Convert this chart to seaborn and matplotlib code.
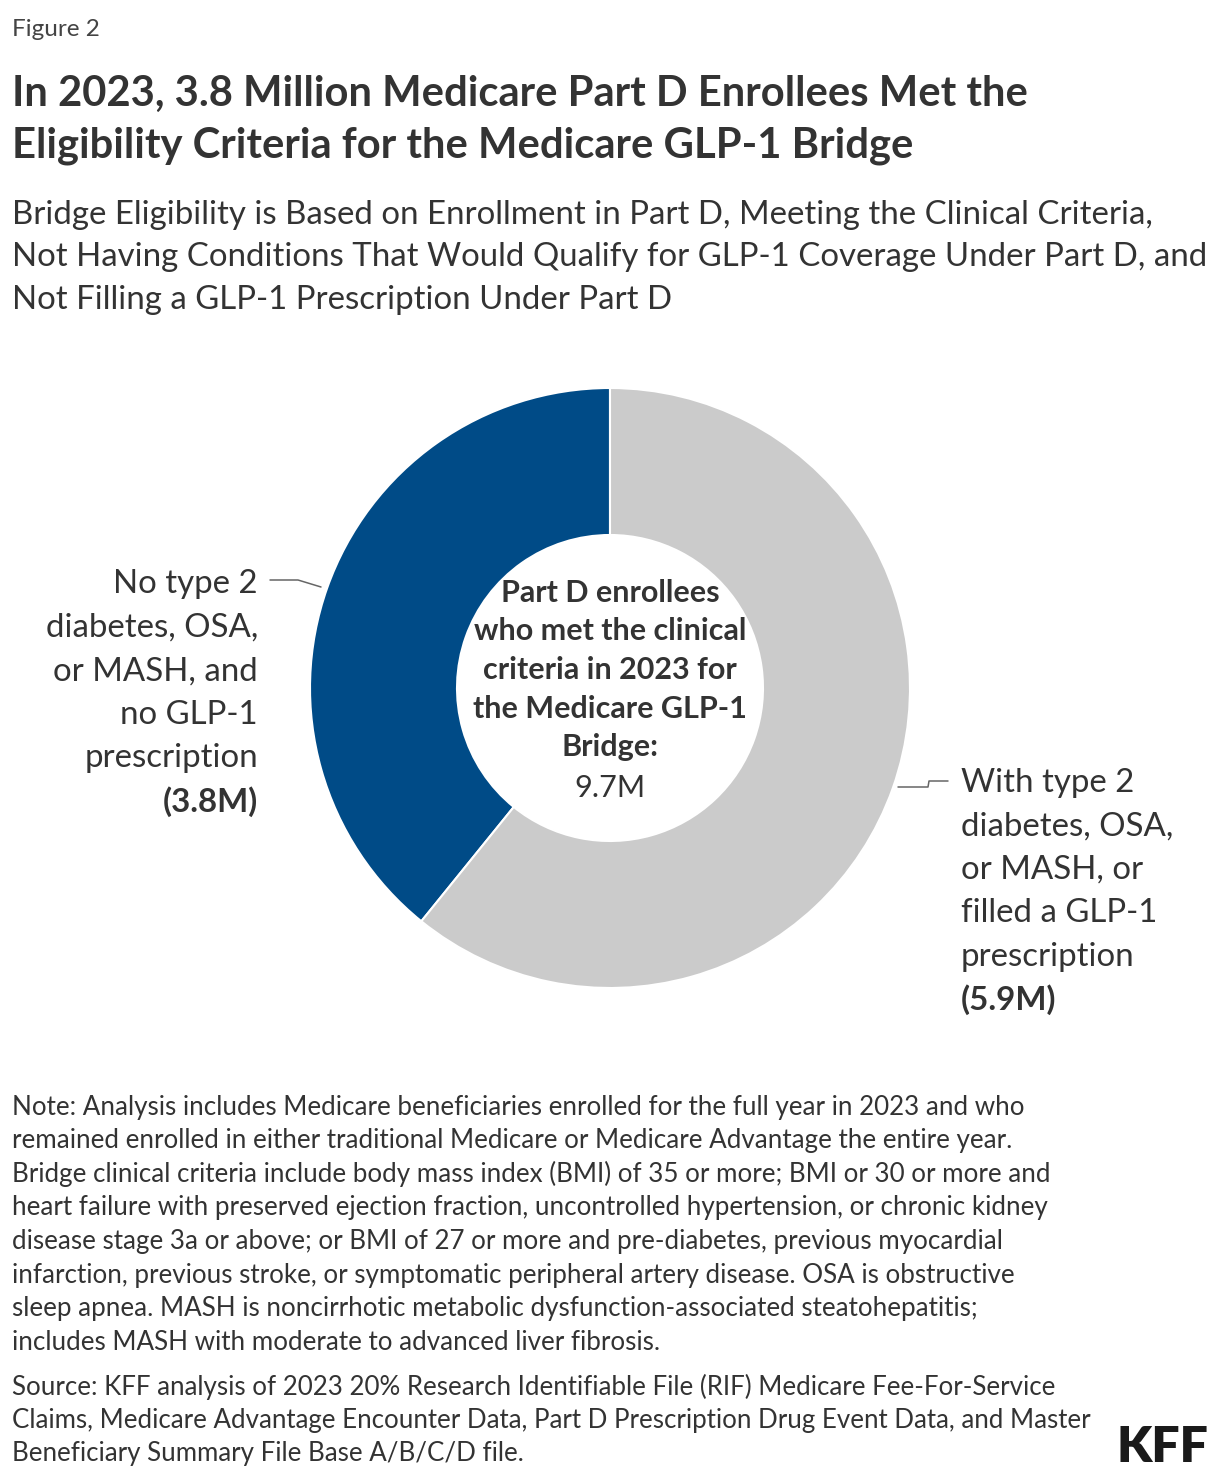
import matplotlib
matplotlib.use("Agg")
import matplotlib.pyplot as plt
import seaborn as sns
from matplotlib.lines import Line2D

# data
segments = ["No type 2 diabetes, OSA, or MASH, and no GLP-1 prescription",
            "With type 2 diabetes, OSA, or MASH, or filled a GLP-1 prescription"]
values = [3.8, 5.9]
total_label = "9.7M"
seg_colors = ["#004b87", "#cbcbcb"]

W, H = 1220, 1480
sns.set_theme(style="white")
plt.rcParams['font.family'] = ['Lato', 'DejaVu Sans']
TXT = "#333333"

fig = plt.figure(figsize=(W / 100, H / 100), dpi=100)
fig.patch.set_facecolor("white")


def put(x, y, s, size, weight="normal", ha="left", color=TXT):
    # y is a pixel position from the top; small shift to match baselines
    fig.text(x / W, 1 - (y + 2) / H, s, fontsize=size, fontweight=weight,
             ha=ha, va="center", color=color)


# donut
cx, cy, r = 610, 688, 300
ax = fig.add_axes([(cx - r) / W, (H - cy - r) / H, 2 * r / W, 2 * r / H])
ax.pie(values, colors=seg_colors, startangle=90, counterclock=True, radius=1,
       wedgeprops=dict(width=0.49, edgecolor="white", linewidth=1.5))
ax.set_xlim(-1, 1)
ax.set_ylim(-1, 1)
ax.set_aspect("equal")
ax.axis("off")

# header
put(12, 27, "Figure 2", 17.5, color="#444444")
put(12, 92, "In 2023, 3.8 Million Medicare Part D Enrollees Met the", 30.1, "bold")
put(12, 144, "Eligibility Criteria for the Medicare GLP-1 Bridge", 30.1, "bold")
subtitle = ["Bridge Eligibility is Based on Enrollment in Part D, Meeting the Clinical Criteria,",
            "Not Having Conditions That Would Qualify for GLP-1 Coverage Under Part D, and",
            "Not Filling a GLP-1 Prescription Under Part D"]
for i, s in enumerate(subtitle):
    put(12, 213 + i * 42.5, s, 23.8)

# left label
left_lines = ["No type 2", "diabetes, OSA,", "or MASH, and", "no GLP-1", "prescription"]
for i, s in enumerate(left_lines):
    put(258, 582 + i * 43.6, s, 23.8, ha="right")
put(258, 800, "(%.1fM)" % values[0], 23.8, "bold", ha="right")

# right label
right_lines = ["With type 2", "diabetes, OSA,", "or MASH, or", "filled a GLP-1", "prescription"]
for i, s in enumerate(right_lines):
    put(961, 781 + i * 43.4, s, 23.8)
put(961, 998, "(%.1fM)" % values[1], 23.8, "bold")

# center label
center_lines = ["Part D enrollees", "who met the clinical", "criteria in 2023 for",
                "the Medicare GLP-1", "Bridge:"]
for i, s in enumerate(center_lines):
    put(610, 591 + i * 38.5, s, 22, "bold", ha="center")
put(610, 786, total_label, 22, ha="center")

# leader lines
lc = "#666666"
fig.add_artist(Line2D([270 / W, 298 / W, 321 / W],
                      [1 - 580 / H, 1 - 580 / H, 1 - 587 / H], color=lc, lw=1.1))
fig.add_artist(Line2D([898 / W, 928 / W, 929 / W, 948 / W],
                      [1 - 787 / H, 1 - 787 / H, 1 - 781 / H, 1 - 781 / H], color=lc, lw=1.1))

# notes
notes = ["Note: Analysis includes Medicare beneficiaries enrolled for the full year in 2023 and who",
         "remained enrolled in either traditional Medicare or Medicare Advantage the entire year.",
         "Bridge clinical criteria include body mass index (BMI) of 35 or more; BMI or 30 or more and",
         "heart failure with preserved ejection fraction, uncontrolled hypertension, or chronic kidney",
         "disease stage 3a or above; or BMI of 27 or more and pre-diabetes, previous myocardial",
         "infarction, previous stroke, or symptomatic peripheral artery disease. OSA is obstructive",
         "sleep apnea. MASH is noncirrhotic metabolic dysfunction-associated steatohepatitis;",
         "includes MASH with moderate to advanced liver fibrosis."]
for i, s in enumerate(notes):
    put(12, 1105 + i * 33.6, s, 18.7)
source = ["Source: KFF analysis of 2023 20% Research Identifiable File (RIF) Medicare Fee-For-Service",
          "Claims, Medicare Advantage Encounter Data, Part D Prescription Drug Event Data, and Master",
          "Beneficiary Summary File Base A/B/C/D file."]
for i, s in enumerate(source):
    put(12, 1385 + i * 33.3, s, 18.6)

put(1208, 1446, "KFF", 36, "heavy", ha="right", color="#1a1a1a")

fig.savefig("out.png", dpi=100, facecolor="white")
